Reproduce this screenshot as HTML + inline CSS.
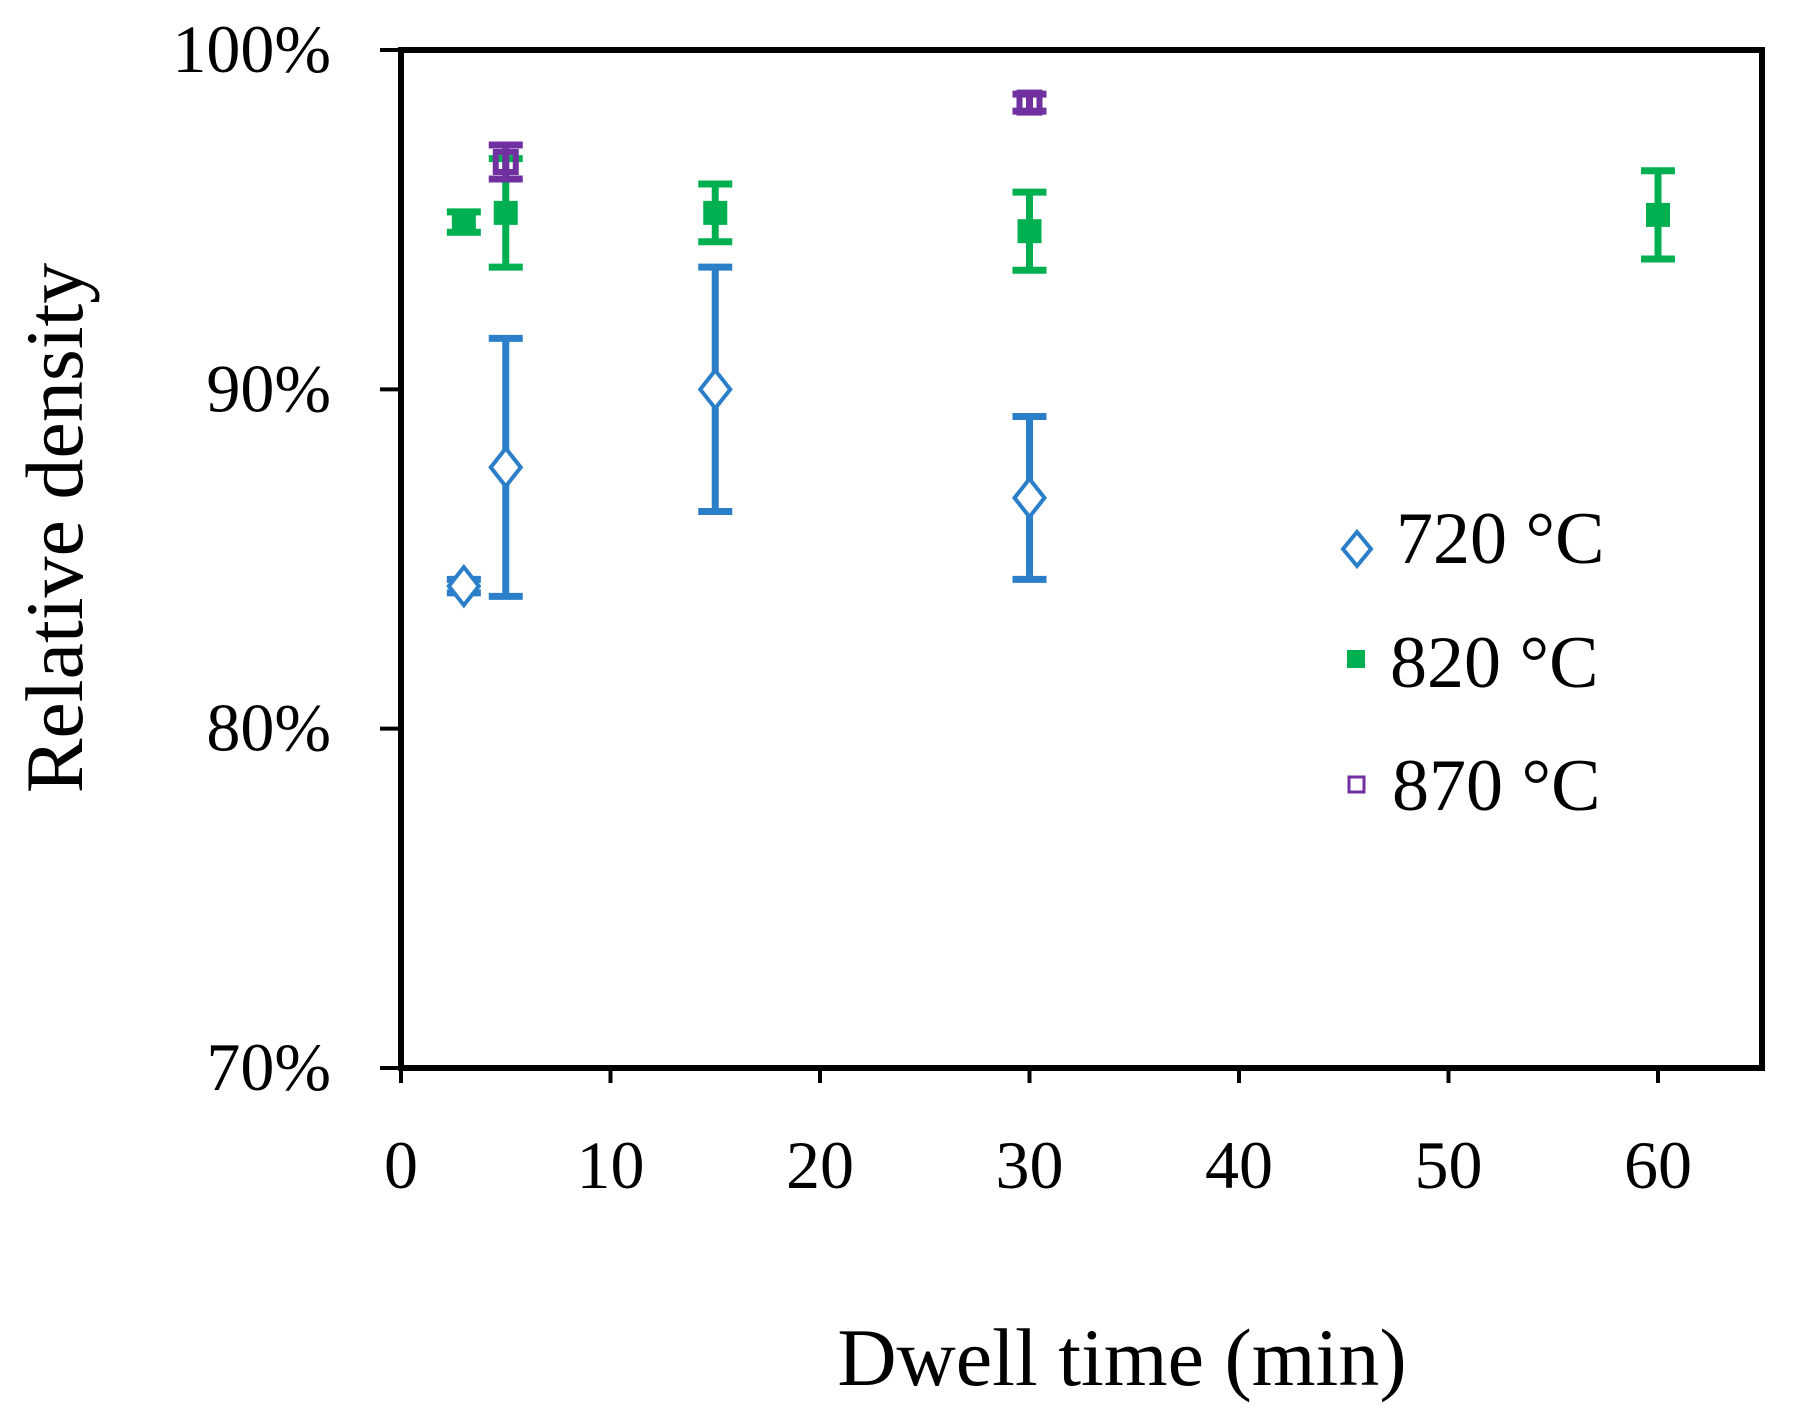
<!DOCTYPE html>
<html><head><meta charset="utf-8"><style>
body{margin:0;background:#fff}
svg text{font-family:"Liberation Serif",serif;fill:#000}
</style></head><body>
<svg id="chart" width="1798" height="1414" viewBox="0 0 1798 1414">
<g id="marks"></g>
<rect x="401" y="50" width="1361" height="1018" fill="none" stroke="#000" stroke-width="6"/>
<text x="1122" y="1385" font-size="82" text-anchor="middle">Dwell time (min)</text>
<text transform="translate(82,528) rotate(-90)" font-size="82" text-anchor="middle">Relative density</text>
<g>
<path d="M1357 532 L1371 549 L1357 566 L1343 549 Z" fill="#fff" stroke="#2a7fc8" stroke-width="4"/>
<text x="1396" y="563" font-size="74">720 °C</text>
<rect x="1347" y="650" width="18" height="18" fill="#00b050"/>
<text x="1390" y="687" font-size="74">820 °C</text>
<rect x="1349" y="777" width="15" height="15" fill="#fff" stroke="#7030a0" stroke-width="3"/>
<text x="1392" y="810" font-size="74">870 °C</text>
</g>
</svg>
<script>
const xTicks=[0,10,20,30,40,50,60];
const yTicks=[70,80,90,100];
const yTickLabels=["70%","80%","90%","100%"];
const x720=[3,5,15,30];
const y720=[84.2,87.7,90.0,86.8];
const e720=[0.2,3.8,3.6,2.4];
const x820=[3,5,15,30,60];
const y820=[94.93,95.2,95.2,94.66,95.14];
const e820=[0.3,1.6,0.85,1.15,1.3];
const x870=[5,30];
const y870=[96.7,98.45];
const e870=[0.5,0.25];
const NS="http://www.w3.org/2000/svg";
const X=v=>401+(1658-401)*v/60;
const Y=v=>1068-(1068-50)*(v-70)/30;
const svg=document.getElementById('chart');
const g=document.getElementById('marks');
function mk(tag,attrs,parent){const e=document.createElementNS(NS,tag);for(const k in attrs)e.setAttribute(k,attrs[k]);(parent||g).appendChild(e);return e;}
xTicks.forEach(t=>{
 const l=mk('line',{x1:X(t),x2:X(t),y1:1068,y2:1083,stroke:'#000','stroke-width':4},svg);
 
 
 const tx=mk('text',{x:X(t),y:1188,'font-size':68,'text-anchor':'middle'},svg);
 tx.textContent=t;
 
 
});
yTicks.forEach((t,i)=>{
 const l=mk('line',{x1:380,x2:401,y1:Y(t),y2:Y(t),stroke:'#000','stroke-width':4},svg);
 
 
 const tx=mk('text',{x:331,y:Y(t)+22,'font-size':68,'text-anchor':'end'},svg);
 tx.textContent=yTickLabels[i];
 
 
});
function errbar(x,y,e,color,name){
 const gg=mk('g',{});
 
 
 const cx=X(x),y1=Y(y+e),y2=Y(y-e);
 mk('line',{x1:cx,x2:cx,y1:y1,y2:y2,stroke:color,'stroke-width':7},gg);
 mk('line',{x1:cx-17,x2:cx+17,y1:y1,y2:y1,stroke:color,'stroke-width':7},gg);
 mk('line',{x1:cx-17,x2:cx+17,y1:y2,y2:y2,stroke:color,'stroke-width':7},gg);
}
x820.forEach((x,i)=>errbar(x,y820[i],e820[i],'#00b050','error-bar-820'));
x820.forEach((x,i)=>{
 const r=mk('rect',{x:X(x)-12,y:Y(y820[i])-12,width:24,height:24,fill:'#00b050'});
 
 
});
x720.forEach((x,i)=>errbar(x,y720[i],e720[i],'#2a7fc8','error-bar-720'));
x720.forEach((x,i)=>{
 const cx=X(x),cy=Y(y720[i]);
 const p=mk('path',{d:`M${cx} ${cy-19} L${cx+15} ${cy} L${cx} ${cy+19} L${cx-15} ${cy} Z`,fill:'#fff',stroke:'#2a7fc8','stroke-width':4});
 
 
});
x870.forEach((x,i)=>errbar(x,y870[i],e870[i],'#7030a0','error-bar-870'));
x870.forEach((x,i)=>{
 const r=mk('rect',{x:X(x)-10,y:Y(y870[i])-10,width:20,height:20,fill:'none',stroke:'#7030a0','stroke-width':6});
 
 
});
</script>
</body></html>
